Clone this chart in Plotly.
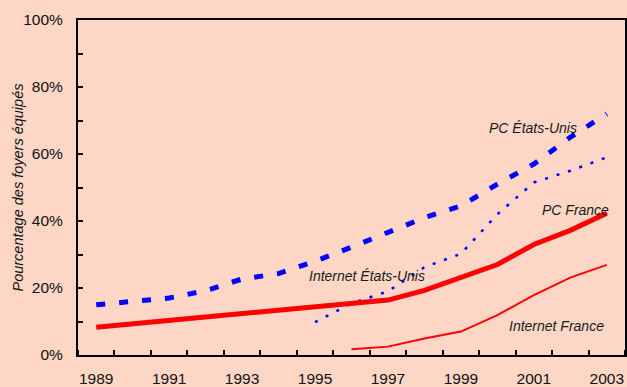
import plotly.graph_objects as go

years = list(range(1989, 2004))
pc_us = [15.0, 16.0, 17.0, 19.2, 22.7, 24.3, 28.0, 32.2, 36.5, 41.0, 44.5, 51.0, 57.0, 65.0, 72.0]
inet_us = [None] * 6 + [9.8, 15.4, 19.0, 26.2, 30.2, 42.0, 51.5, 55.0, 59.0]
pc_fr = [8.3, 9.3, 10.3, 11.3, 12.3, 13.2, 14.2, 15.2, 16.4, 19.3, 23.0, 27.0, 33.0, 37.2, 42.3]
inet_fr = [None] * 7 + [1.7, 2.5, 4.9, 7.0, 11.9, 17.9, 23.1, 26.9]
x_labels = [str(y) for y in range(1989, 2004, 2)]
y_title = "Pourcentage des foyers équipés"

FONT = "Arial, Liberation Sans, sans-serif"
BG = "#FDD6C6"

fig = go.Figure()
fig.add_trace(go.Scatter(x=years, y=pc_us, mode="lines", name="PC États-Unis",
                         line=dict(color="#0000FF", width=5, dash="9px,14px")))
fig.add_trace(go.Scatter(x=years, y=inet_us, mode="lines", name="Internet États-Unis",
                         line=dict(color="#0000FF", width=2.5, dash="3px,9px")))
fig.add_trace(go.Scatter(x=years, y=pc_fr, mode="lines", name="PC France",
                         line=dict(color="#FF0000", width=5)))
fig.add_trace(go.Scatter(x=years, y=inet_fr, mode="lines", name="Internet France",
                         line=dict(color="#FF0000", width=2)))

labels = [
    ("PC États-Unis", 2000.98, 67.8),
    ("PC France", 2002.14, 43.3),
    ("Internet France", 2001.63, 8.7),
    ("Internet États-Unis", 1996.42, 23.7),
]
for txt, xx, yy in labels:
    fig.add_annotation(x=xx, y=yy, text="<i>" + txt + "</i>", showarrow=False,
                       xanchor="center", yanchor="middle",
                       font=dict(family=FONT, size=14, color="#1a1a1a"))

# y-axis title (rotated text)
fig.add_annotation(xref="paper", yref="paper", x=-0.1115, y=0.5,
                   text="<i>" + y_title + "</i>", textangle=-90, showarrow=False,
                   xanchor="center", yanchor="middle",
                   font=dict(family=FONT, size=14.5, color="#111111"))

fig.update_layout(
    width=627, height=387,
    margin=dict(l=78, r=2, t=20, b=32),
    paper_bgcolor=BG, plot_bgcolor=BG,
    showlegend=False,
    font=dict(family=FONT, color="#111111"),
)
fig.update_xaxes(
    range=[1988.5, 2003.5], tickmode="array",
    tickvals=list(range(1989, 2004, 2)), ticktext=x_labels,
    ticks="", showgrid=False, zeroline=False, automargin=False,
    showline=True, linecolor="black", linewidth=2, mirror=True,
    tickfont=dict(size=15.5, family=FONT, color="#111111"),
    ticklabelstandoff=8,
    minor=dict(tickmode="linear", tick0=1988.5, dtick=1, ticks="inside",
               ticklen=5, tickwidth=2, tickcolor="black", showgrid=False),
)
fig.update_yaxes(
    range=[0, 100], tickmode="linear", tick0=0, dtick=20, ticksuffix="%",
    ticks="inside", ticklen=5, tickwidth=2, tickcolor="black",
    showgrid=False, zeroline=False, automargin=False,
    showline=True, linecolor="black", linewidth=2, mirror=True,
    tickfont=dict(size=15.5, family=FONT, color="#111111"),
    ticklabelstandoff=10,
    minor=dict(tickmode="linear", tick0=0, dtick=10, ticks="inside",
               ticklen=5, tickwidth=2, tickcolor="black", showgrid=False),
)

fig.write_html(
    "out.html",
    config={"displayModeBar": False},
    post_script="document.body.style.margin='0';document.body.style.padding='0';"
                "document.body.style.overflow='hidden';",
)
